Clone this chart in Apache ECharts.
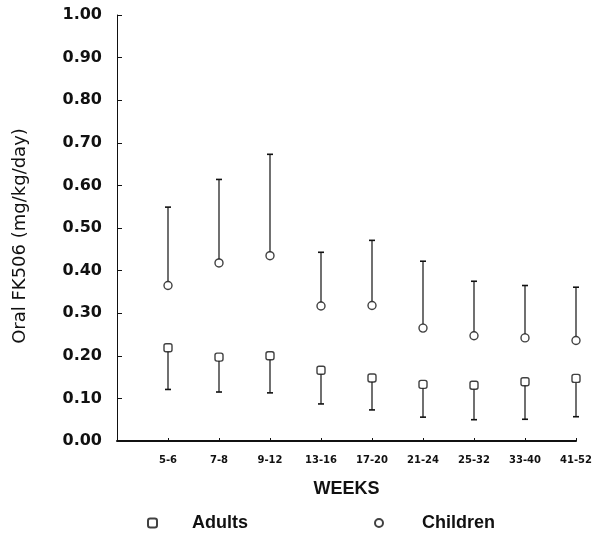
<!DOCTYPE html>
<html>
<head>
<meta charset="utf-8">
<script src="https://cdn.jsdelivr.net/npm/echarts@6/dist/echarts.min.js"></script>
<style>html,body{margin:0;padding:0;background:#fff;}#c{width:604px;height:540px;}</style>
</head>
<body>
<div id="c"></div>
<script>
const weeks = ['5-6','7-8','9-12','13-16','17-20','21-24','25-32','33-40','41-52'];
const childrenMean  = [0.365,0.418,0.435,0.317,0.318,0.265,0.247,0.242,0.236];
const childrenUpper = [0.549,0.614,0.673,0.443,0.471,0.422,0.375,0.365,0.361];
const adultMean     = [0.219,0.197,0.200,0.166,0.148,0.133,0.131,0.139,0.147];
const adultLower    = [0.121,0.115,0.113,0.087,0.073,0.056,0.050,0.051,0.057];

const chart = echarts.init(document.getElementById('c'), null, {renderer:'canvas'});

function pts(means){ return means.map((v,i)=>[i+1,v]); }
function bars(means,bounds){ return means.map((v,i)=>[i+1,v,bounds[i]]); }

function errRender(params, api){
  const x = api.value(0), m = api.value(1), b = api.value(2);
  const p0 = api.coord([x,m]), p1 = api.coord([x,b]);
  const dir = p1[1] < p0[1] ? -1 : 1;
  const start = p0[1] + dir*4;
  return {type:'group', children:[
    {type:'line', shape:{x1:p0[0],y1:start,x2:p1[0],y2:p1[1]}, style:{stroke:'#111',lineWidth:1.2}},
    {type:'line', shape:{x1:p1[0]-3,y1:p1[1],x2:p1[0]+3,y2:p1[1]}, style:{stroke:'#111',lineWidth:1.6}}
  ]};
}

const option = {
  backgroundColor:'#fff',
  animation:false,
  grid:{left:117, right:28, top:15, bottom:99, containLabel:false},
  xAxis:{
    type:'value', min:0, max:9, interval:1,
    name:'WEEKS', nameLocation:'middle', nameGap:39,
    nameTextStyle:{fontFamily:'Liberation Sans', fontWeight:'bold', fontSize:18, color:'#111'},
    axisLine:{show:true, lineStyle:{color:'#111', width:2}},
    axisTick:{show:true, inside:true, length:3, lineStyle:{color:'#111'}},
    splitLine:{show:false},
    axisLabel:{margin:14, fontFamily:'DejaVu Sans', fontWeight:'bold', fontSize:10, color:'#111',
      formatter:v=> weeks[v-1] || ''}
  },
  yAxis:{
    type:'value', min:0, max:1, interval:0.1,
    name:'Oral FK506 (mg/kg/day)', nameLocation:'middle', nameGap:88, nameRotate:90,
    nameTextStyle:{fontFamily:'DejaVu Sans', fontSize:18, color:'#111', padding:[0,16,0,0]},
    axisLine:{show:true, lineStyle:{color:'#111', width:1}},
    axisTick:{show:true, inside:true, length:5, lineStyle:{color:'#111'}},
    splitLine:{show:false},
    axisLabel:{margin:15, fontFamily:'DejaVu Sans', fontWeight:'bold', fontSize:16, color:'#111',
      formatter:v=> v.toFixed(2)}
  },
  legend:[
    {data:['Adults'], left:142, top:509, itemWidth:9, itemHeight:9,
     textStyle:{fontFamily:'Liberation Sans', fontWeight:'bold', fontSize:18, color:'#111', padding:[0,0,0,30]}},
    {data:['Children'], left:369, top:509, itemWidth:8, itemHeight:8,
     textStyle:{fontFamily:'Liberation Sans', fontWeight:'bold', fontSize:18, color:'#111', padding:[0,0,0,34]}}
  ],
  series:[
    {name:'Children error', type:'custom', renderItem:errRender, data:bars(childrenMean,childrenUpper), z:2},
    {name:'Adults error', type:'custom', renderItem:errRender, data:bars(adultMean,adultLower), z:2},
    {name:'Adults', type:'scatter', symbol:'roundRect', symbolSize:8, data:pts(adultMean), z:3,
     itemStyle:{color:'#fff', borderColor:'#111', borderWidth:1.4}},
    {name:'Children', type:'scatter', symbol:'circle', symbolSize:8, data:pts(childrenMean), z:3,
     itemStyle:{color:'#fff', borderColor:'#111', borderWidth:1.4}}
  ]
};
chart.setOption(option);
</script>
</body>
</html>
